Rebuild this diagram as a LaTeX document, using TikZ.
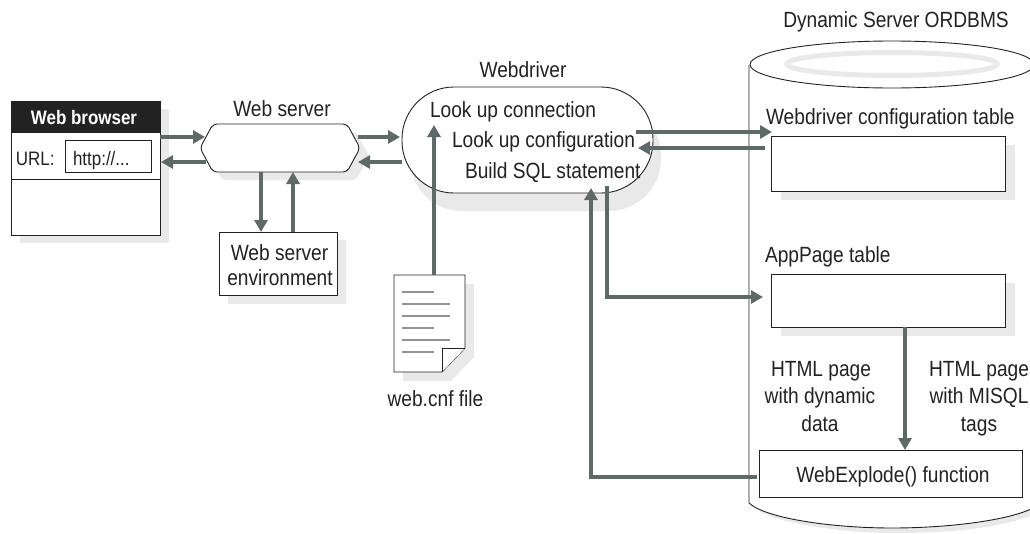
\documentclass[tikz,border=0pt]{standalone}
\usepackage{fontspec}
\setmainfont{Liberation Sans}[FakeStretch=0.87]
\usetikzlibrary{arrows.meta,calc}
\definecolor{ink}{HTML}{222222}
\definecolor{conn}{HTML}{5E6A68}
\definecolor{shade}{HTML}{E9E9E9}
\tikzset{
  every node/.style={text=ink,font=\fontsize{22}{26}\selectfont},
  label/.style={inner sep=0pt,outer sep=0pt,anchor=base},
  leftlabel/.style={inner sep=0pt,outer sep=0pt,anchor=base west},
  smalltext/.style={font=\fontsize{19.5}{23}\selectfont},
  outline/.style={draw=ink,line width=0.9pt,fill=white},
  shadowfill/.style={fill=shade,draw=none},
  box/.style={outline,inner sep=0pt,outer sep=0pt,anchor=north west},
  link/.style={draw=conn,line width=3.4pt,-{Triangle[length=12pt,width=13pt,color=conn]}},
  filerule/.style={draw=gray!85,line width=1.1pt},
}
\begin{document}
\begin{tikzpicture}[x=1pt,y=-1pt]
\useasboundingbox (0,0) rectangle (1030,533);
\begin{scope}
\clip (0,0) rectangle (1030,533);
% ---- shadows
\fill[shadowfill] (20,109) rectangle (169,243);
\fill[shadowfill,rounded corners=4pt] (222,132) -- (209,156) -- (222,180) -- (356,180) -- (369,156) -- (356,132) -- cycle;
\fill[shadowfill] (228,240) rectangle (346,304);
\fill[shadowfill,rounded corners=52pt] (410,104) rectangle (661,211);
\fill[shadowfill] (403,284) -- (474,284) -- (474,357) -- (451,381) -- (403,381) -- cycle;
% ---- cylinder
\fill[shadowfill] (760,505) -- (760,512) .. controls (790,526) and (850,533) .. (895,533) .. controls (960,533) and (1010,526) .. (1040,512) -- (1040,505) -- cycle;
\draw[outline] (749,65) -- (749,503) .. controls (765,518) and (830,528) .. (892,528) .. controls (950,528) and (1010,520) .. (1033,508) -- (1033,65);
\draw[outline] (892,64.5) ellipse [x radius=142,y radius=23.5];
\draw[draw=shade,line width=5pt] (892,64) ellipse [x radius=105,y radius=11.5];
% ---- table shadows
\fill[shadowfill] (781,145) rectangle (1015,200);
\fill[shadowfill] (781,283) rectangle (1015,336);
% ---- boxes
\node[box,minimum width=149pt,minimum height=134pt] (browser) at (11,101) {};
\fill[ink] (11,101) rectangle (160,133);
\node[label,text=white,font=\fontsize{19.5}{23}\bfseries\selectfont] (browsertitle) at (84,124) {Web browser};
\draw[ink,line width=0.9pt] (11,179) -- (160,179);
\node[leftlabel,smalltext] (urllabel) at (16,165) {URL:};
\node[box,minimum width=86pt,minimum height=32pt] (urlbox) at (65,140) {};
\node[leftlabel,smalltext] (urltext) at (73,165) {http://...};
\draw[outline,rounded corners=4pt] (213,124) -- (200,148) -- (213,172) -- (347,172) -- (360,148) -- (347,124) -- cycle;
\coordinate (server) at (280,148);
\node[label] (serverlabel) at (282,116) {Web server};
\node[box,minimum width=118pt,minimum height=63pt] (env) at (219,232) {};
\node[label] (envone) at (279.5,260) {Web server};
\node[label] (envtwo) at (280,285) {environment};
\node[box,minimum width=251pt,minimum height=106pt,rounded corners=52pt] (driver) at (402,87) {};
\node[label] (driverlabel) at (523,77) {Webdriver};
\node[leftlabel] (lookconn) at (430,117) {Look up connection};
\node[leftlabel] (lookconf) at (452,147) {Look up configuration};
\node[leftlabel] (buildsql) at (465,178) {Build SQL statement};
% ---- file
\draw[outline] (394,275) -- (465,275) -- (465,348) -- (442,372) -- (394,372) -- cycle;
\coordinate (file) at (434,275);
\draw[outline] (442,372) -- (442,348) -- (465,348);
\foreach \y/\e in {292/434,304/450,316/450,328/434,340/450,352/434}
  \draw[filerule] (402,\y) -- (\e,\y);
\node[label] (filelabel) at (435.5,406) {web.cnf file};
% ---- tables
\node[label] (dbtitle) at (896,27) {Dynamic Server ORDBMS};
\node[leftlabel] (conftitle) at (766,124) {Webdriver configuration table};
\node[box,minimum width=234pt,minimum height=55pt] (conf) at (771,136) {};
\node[leftlabel] (apptitle) at (765,262) {AppPage table};
\node[box,minimum width=234pt,minimum height=53pt] (app) at (771,274) {};
\node[box,minimum width=263pt,minimum height=47pt] (explode) at (759,450) {};
\node[label] (explodetext) at (893,482) {WebExplode() function};
\node[label] (dyna) at (821,376) {HTML page};
\node[label] (dynb) at (820,403) {with dynamic};
\node[label] (dync) at (820,431) {data};
\node[label] (misa) at (979,376) {HTML page};
\node[label] (misb) at (979,403) {with MISQL};
\node[label] (misc) at (979,431) {tags};
% ---- connectors
\coordinate (bs) at (160,137); \coordinate (sb) at (205,137);
\draw[link] (bs) -- (sb);
\coordinate (sbo) at (206,162); \coordinate (bsi) at (161,162);
\draw[link] (sbo) -- (bsi);
\coordinate (d1) at (261,172); \coordinate (d2) at (261,232);
\draw[link] (d1) -- (d2);
\coordinate (u1) at (293,232); \coordinate (u2) at (293,172);
\draw[link] (u1) -- (u2);
\coordinate (sd) at (358,137); \coordinate (ds) at (400,137);
\draw[link] (sd) -- (ds);
\coordinate (dso) at (402,162); \coordinate (sdi) at (358,162);
\draw[link] (dso) -- (sdi);
\coordinate (filetip) at (434,125);
\draw[link] (file) -- (filetip);
\coordinate (cf1) at (636,132); \coordinate (cf2) at (772,132);
\draw[link] (cf1) -- (cf2);
\coordinate (cr1) at (765,148); \coordinate (cr2) at (638,148);
\draw[link] (cr1) -- (cr2);
\coordinate (sq1) at (607,186); \coordinate (sq2) at (763,297);
\draw[link] (sq1) |- (sq2);
\coordinate (ex1) at (905,327); \coordinate (ex2) at (905,450);
\draw[link] (ex1) -- (ex2);
\coordinate (ret1) at (757,477); \coordinate (ret2) at (591,188);
\draw[link] (ret1) -| (ret2);
\end{scope}
\end{tikzpicture}
\end{document}
